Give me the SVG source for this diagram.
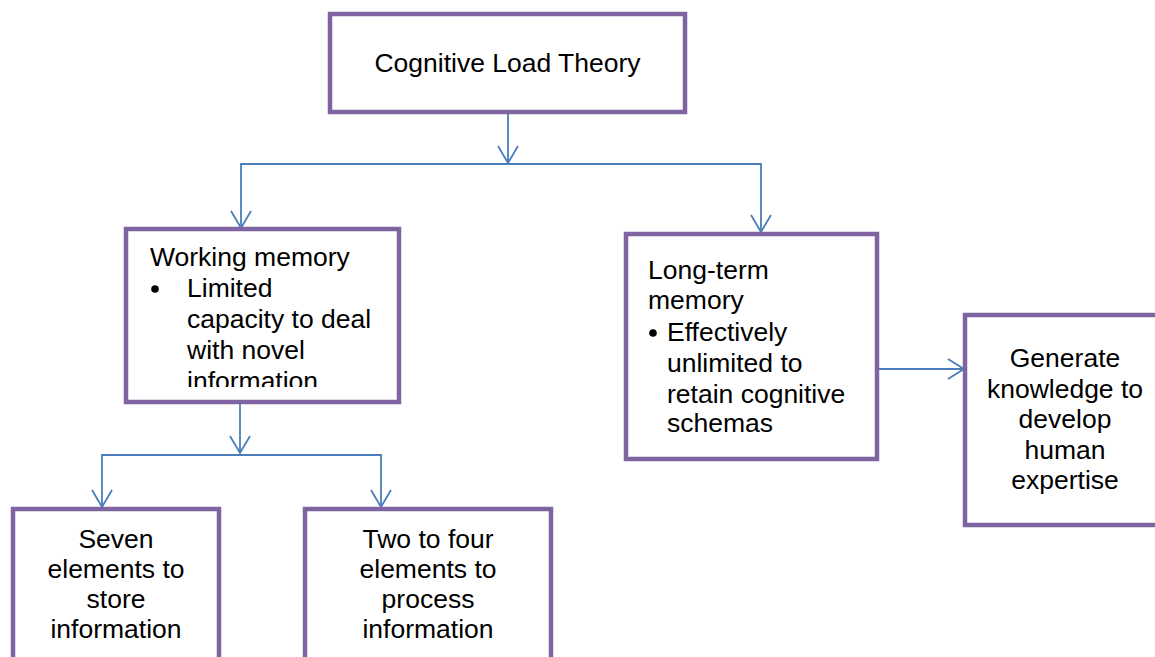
<svg xmlns="http://www.w3.org/2000/svg" width="1155" height="657" viewBox="0 0 1155 657">
<style>
.box{fill:#fff;stroke:#8064A2;stroke-width:4.5}
.t{font-family:"Liberation Sans",Arial,sans-serif;font-size:26.5px;fill:#000}
.c{text-anchor:middle}
.con{fill:none;stroke:#4A7EBB;stroke-width:1.8}
</style>
<defs>
<clipPath id="wmclip"><rect x="126" y="229" width="273" height="158"/></clipPath>
</defs>
<rect width="1155" height="657" fill="#fff"/>
<g id="connectors" class="con">
<path d="M508 112V163M498 146L508 163L518 146"/>
<path d="M241 229V164H761V232"/>
<path d="M231 211L241 228L251 211M751 215L761 232L771 215"/>
<path d="M240 402V453M230 436L240 453L250 436"/>
<path d="M102 507V455H381V507"/>
<path d="M92 490L102 507L112 490M371 490L381 507L391 490"/>
<path d="M877 369H964M948 359L964 369L948 379"/>
</g>
<g id="clt">
<rect class="box" x="330" y="14" width="355" height="98"/>
<text class="t c" x="507.5" y="72">Cognitive Load Theory</text>
</g>
<g id="working-memory">
<rect class="box" x="126" y="229" width="273" height="173"/>
<g clip-path="url(#wmclip)">
<text class="t" x="150" y="266">Working memory</text>
<circle cx="155" cy="289" r="3.8" fill="#000"/>
<text class="t" x="187" y="297">Limited</text>
<text class="t" x="187" y="328">capacity to deal</text>
<text class="t" x="187" y="359">with novel</text>
<text class="t" x="187" y="390">information</text>
</g>
</g>
<g id="long-term-memory">
<rect class="box" x="626" y="234" width="251" height="225"/>
<text class="t" x="648" y="279">Long-term</text>
<text class="t" x="648" y="309">memory</text>
<circle cx="653" cy="333" r="3.8" fill="#000"/>
<text class="t" x="667" y="341">Effectively</text>
<text class="t" x="667" y="372">unlimited to</text>
<text class="t" x="667" y="403">retain cognitive</text>
<text class="t" x="667" y="432">schemas</text>
</g>
<g id="generate">
<rect class="box" x="965" y="315" width="260" height="210"/>
<text class="t c" x="1065" y="367">Generate</text>
<text class="t c" x="1065" y="398">knowledge to</text>
<text class="t c" x="1065" y="428">develop</text>
<text class="t c" x="1065" y="459">human</text>
<text class="t c" x="1065" y="489">expertise</text>
</g>
<g id="seven">
<rect class="box" x="13" y="509" width="206" height="200"/>
<text class="t c" x="116" y="548">Seven</text>
<text class="t c" x="116" y="578">elements to</text>
<text class="t c" x="116" y="608">store</text>
<text class="t c" x="116" y="638">information</text>
</g>
<g id="two-to-four">
<rect class="box" x="305" y="509" width="246" height="200"/>
<text class="t c" x="428" y="548">Two to four</text>
<text class="t c" x="428" y="578">elements to</text>
<text class="t c" x="428" y="608">process</text>
<text class="t c" x="428" y="638">information</text>
</g>
</svg>
